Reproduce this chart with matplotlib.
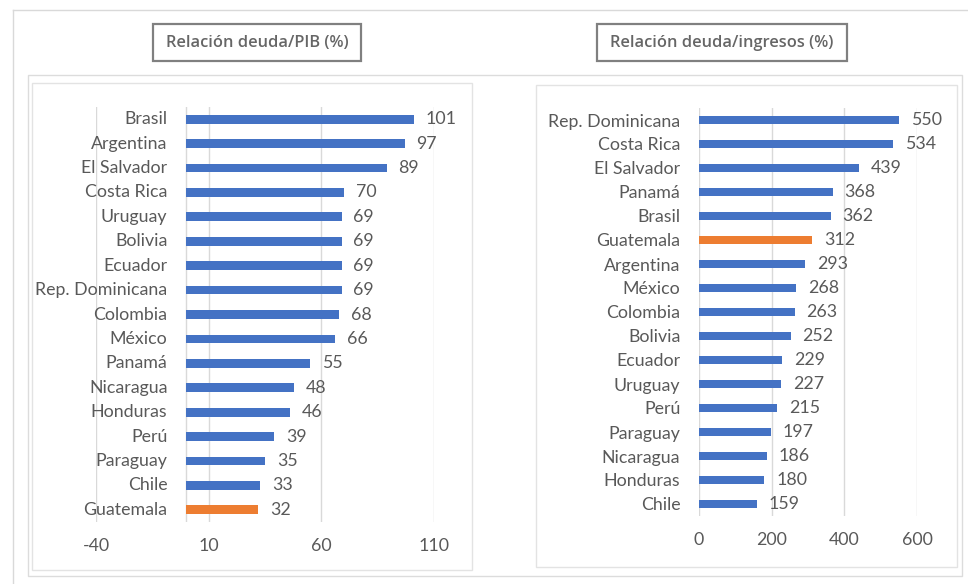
import matplotlib
matplotlib.use("Agg")
import matplotlib.pyplot as plt
from matplotlib.patches import Rectangle
from matplotlib.lines import Line2D

# ---- data ----
pib_countries = ["Brasil", "Argentina", "El Salvador", "Costa Rica", "Uruguay", "Bolivia",
                 "Ecuador", "Rep. Dominicana", "Colombia", "México", "Panamá", "Nicaragua",
                 "Honduras", "Perú", "Paraguay", "Chile", "Guatemala"]
pib_values = [101, 97, 89, 70, 69, 69, 69, 69, 68, 66, 55, 48, 46, 39, 35, 33, 32]
pib_ticks = [-40, 10, 60, 110]

ing_countries = ["Rep. Dominicana", "Costa Rica", "El Salvador", "Panamá", "Brasil", "Guatemala",
                 "Argentina", "México", "Colombia", "Bolivia", "Ecuador", "Uruguay", "Perú",
                 "Paraguay", "Nicaragua", "Honduras", "Chile"]
ing_values = [550, 534, 439, 368, 362, 312, 293, 268, 263, 252, 229, 227, 215, 197, 186, 180, 159]
ing_ticks = [0, 200, 400, 600]

titles = ["Relación deuda/PIB (%)", "Relación deuda/ingresos (%)"]
highlight = "Guatemala"

BLUE = "#4472C4"
ORANGE = "#ED7D31"
TXT = "#595959"
GRID = "#d9d9d9"
FONT = "Lato"
FS = 12.8

W, H = 968, 584
fig = plt.figure(figsize=(W / 100, H / 100), dpi=100)


def fx(x):
    return x / W


def fy(y):
    return 1 - y / H


def rect(x0, y0, x1, y1, ec, lw=1.0, fc="none", z=0):
    fig.add_artist(Rectangle((fx(x0), fy(y1)), fx(x1) - fx(x0), fy(y0) - fy(y1),
                             transform=fig.transFigure, ec=ec, fc=fc, lw=lw, zorder=z))


# frames
fig.add_artist(Line2D([fx(13), fx(968)], [fy(10), fy(10)], transform=fig.transFigure, color=GRID, lw=1))
fig.add_artist(Line2D([fx(13), fx(13)], [fy(10), fy(584)], transform=fig.transFigure, color=GRID, lw=1))
rect(28, 75, 962, 576, "#dcdcdc")
rect(32, 83, 472, 570, "#e3e3e3")
rect(536, 85, 957, 567, "#e3e3e3")

# title boxes
for (x0, x1), t in zip([(153, 361), (597, 847)], titles):
    rect(x0, 24, x1, 61, "#808080", lw=1.6, fc="white")
    fig.text(fx((x0 + x1) / 2), fy(43), t, ha="center", va="center", color="#666666",
             fontsize=11.8, fontweight="semibold", family="Open Sans")


def panel(axpos, countries, values, ticks, xlim, zero_line):
    ax = fig.add_axes(axpos)
    n = len(countries)
    ypos = list(range(n))
    colors = [ORANGE if c == highlight else BLUE for c in countries]
    ax.barh(ypos, values, height=0.36, color=colors, zorder=3)
    ax.set_ylim(n - 0.5, -0.5)
    ax.set_xlim(*xlim)
    ax.set_xticks(ticks)
    ax.set_xticklabels([str(t) for t in ticks], fontsize=FS, color=TXT, family=FONT)
    ax.set_yticks(ypos)
    ax.set_yticklabels(countries, fontsize=FS, color=TXT, family=FONT)
    ax.tick_params(axis="x", length=0, pad=11.5)
    ax.tick_params(axis="y", length=0, pad=13.5)
    if zero_line:
        # category labels sit next to the zero axis, inside the plotted range
        ax.tick_params(axis="y", labelleft=False)
        for yy, c in zip(ypos, countries):
            ax.annotate(c, (0, yy), xytext=(-13.5, 0), textcoords="offset points",
                        ha="right", va="center", fontsize=FS, color=TXT, family=FONT)
        ax.axvline(0, color=GRID, lw=1, zorder=1)
    ax.grid(axis="x", color=GRID, lw=1, zorder=0)
    ax.set_axisbelow(True)
    for s in ax.spines.values():
        s.set_visible(False)
    ax.patch.set_alpha(0)
    for yy, v in zip(ypos, values):
        ax.annotate(str(v), (v, yy), xytext=(8.5, 0), textcoords="offset points",
                    ha="left", va="center", fontsize=FS, color=TXT, family=FONT)
    return ax


panel([fx(96), fy(522), (434 - 96) / W, (522 - 107) / H], pib_countries, pib_values, pib_ticks,
      (-40, 110), True)
panel([fx(699), fy(516), (917 - 699) / W, (516 - 108) / H], ing_countries, ing_values, ing_ticks,
      (0, 600), False)

fig.savefig("out.png", dpi=100, facecolor="white")
